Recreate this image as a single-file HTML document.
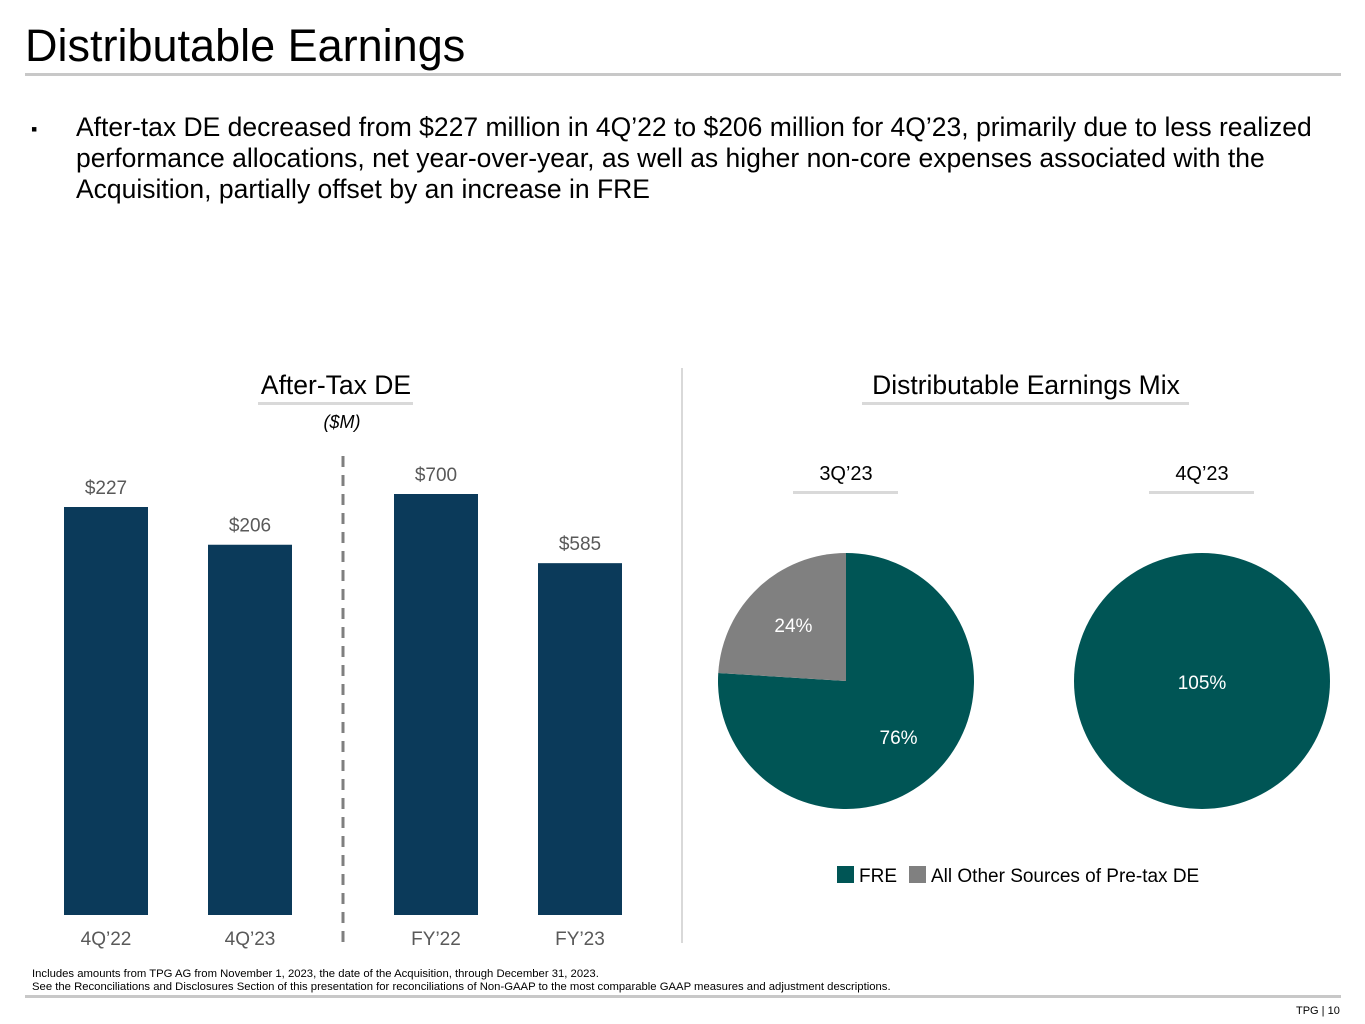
<!DOCTYPE html>
<html><head><meta charset="utf-8"><style>
body{margin:0;width:1365px;height:1024px;background:#fff;font-family:"Liberation Sans",Arial,sans-serif;position:relative;overflow:hidden}
.a{position:absolute;white-space:nowrap}
</style></head><body>
<div class="a" style="left:25px;top:20px;font-size:45px;color:#000">Distributable Earnings</div>
<div class="a" style="left:25px;top:73px;width:1316px;height:3px;background:#c8c8c8"></div>
<div class="a" style="left:31px;top:112px;font-size:26.5px;line-height:31px;color:#000;white-space:normal;width:1290px">
<span style="position:absolute;left:0;font-size:18px;top:2px">▪</span>
<div style="margin-left:45px">After-tax DE decreased from $227 million in 4Q’22 to $206 million for 4Q’23, primarily due to less realized performance allocations, net year-over-year, as well as higher non-core expenses associated with the Acquisition, partially offset by an increase in FRE</div></div>

<svg class="a" style="left:0;top:0" width="1365" height="1024">
<g font-family="Liberation Sans, Arial, sans-serif">
<text x="336" y="394" font-size="26.5" text-anchor="middle" fill="#000">After-Tax DE</text>
<rect x="258" y="402" width="155" height="3" fill="#d9d9d9"/>
<text x="342" y="428" font-size="18" font-style="italic" text-anchor="middle" fill="#000">($M)</text>
<line x1="343" y1="456" x2="343" y2="945" stroke="#7f7f7f" stroke-width="3" stroke-dasharray="11,8"/>
<line x1="682" y1="368" x2="682" y2="943" stroke="#d9d9d9" stroke-width="2"/>
<g id="bars"></g>
<text x="1026" y="394" font-size="26.5" text-anchor="middle" fill="#000">Distributable Earnings Mix</text>
<rect x="862" y="402" width="327" height="3" fill="#d9d9d9"/>
<text x="846" y="480" font-size="20" text-anchor="middle" fill="#000">3Q’23</text>
<rect x="793" y="491" width="105" height="3" fill="#d9d9d9"/>
<text x="1202" y="480" font-size="20" text-anchor="middle" fill="#000">4Q’23</text>
<rect x="1149" y="491" width="105" height="3" fill="#d9d9d9"/>
<g id="pies"></g>
<rect x="837" y="866" width="17" height="17" fill="#005555"/>
<text x="859" y="882" font-size="19" fill="#000">FRE</text>
<rect x="909" y="866" width="17" height="17" fill="#808080"/>
<text x="931" y="882" font-size="19" fill="#000">All Other Sources of Pre-tax DE</text>
</g></svg>

<div class="a" style="left:32px;top:968px;font-size:11.3px;line-height:13px;color:#000">Includes amounts from TPG AG from November 1, 2023, the date of the Acquisition, through December 31, 2023.<br>See the Reconciliations and Disclosures Section of this presentation for reconciliations of Non-GAAP to the most comparable GAAP measures and adjustment descriptions.</div>
<div class="a" style="left:25px;top:995px;width:1316px;height:3px;background:#c8c8c8"></div>
<div class="a" style="left:1296px;top:1005px;font-size:11px;color:#000">TPG | 10</div>

<script>
const categories=["4Q’22","4Q’23","FY’22","FY’23"];
const values=[227,206,700,585];
const valueLabels=["$227","$206","$700","$585"];
const pieLabels=["3Q’23","4Q’23"];
const freShare=[76,105];
const otherShare=[24,0];
const NS="http://www.w3.org/2000/svg";
function mk(t,a,p){const e=document.createElementNS(NS,t);for(const k in a)e.setAttribute(k,a[k]);p.appendChild(e);return e;}
const base=915;
function yScale(i,v){const s=i<2?408/227:421/700;return base-v*s;}
function xPos(i){return 64+i*144+(i>=2?42:0);}
const bg=document.getElementById('bars');
values.forEach((v,i)=>{
 const x=xPos(i),y=yScale(i,v);
 const r=mk('rect',{x:x,y:y,width:84,height:base-y,fill:'#0b3a5a'},bg);
 
 
 const t=mk('text',{x:x+42,y:y-13,'font-size':19,'text-anchor':'middle',fill:'#595959'},bg);t.textContent=valueLabels[i];
 
 
 const c=mk('text',{x:x+42,y:945,'font-size':19,'text-anchor':'middle',fill:'#595959'},bg);c.textContent=categories[i];
 
 
});
const pg=document.getElementById('pies');
const centers=[846,1202],cy=681,R=128;
pieLabels.forEach((l,i)=>{
 const cx=centers[i];const f=freShare[i],o=otherShare[i],tot=f+o;
 if(o===0){const c=mk('circle',{cx:cx,cy:cy,r:R,fill:'#005555'},pg);
  
  
  const t=mk('text',{x:cx,y:cy+8,'font-size':19,'text-anchor':'middle',fill:'#fff'},pg);t.textContent=f+'%';return;}
 const fa=f/tot*2*Math.PI;
 const pt=a=>[cx+R*Math.sin(a),cy-R*Math.cos(a)];
 const e=pt(fa);
 const p1=mk('path',{d:`M${cx},${cy}L${cx},${cy-R}A${R},${R} 0 ${fa>Math.PI?1:0} 1 ${e[0]},${e[1]}Z`,fill:'#005555'},pg);
 
 
 const p2=mk('path',{d:`M${cx},${cy}L${e[0]},${e[1]}A${R},${R} 0 ${fa<Math.PI?1:0} 1 ${cx},${cy-R}Z`,fill:'#808080'},pg);
 
 
 const m1=fa/2,m2=fa+(2*Math.PI-fa)/2,rr=R*0.6;
 const t1=mk('text',{x:cx+rr*Math.sin(m1),y:cy-rr*Math.cos(m1)+7,'font-size':19,'text-anchor':'middle',fill:'#fff'},pg);t1.textContent=f+'%';
 const t2=mk('text',{x:cx+rr*Math.sin(m2),y:cy-rr*Math.cos(m2)+7,'font-size':19,'text-anchor':'middle',fill:'#fff'},pg);t2.textContent=o+'%';
});
</script>
</body></html>
